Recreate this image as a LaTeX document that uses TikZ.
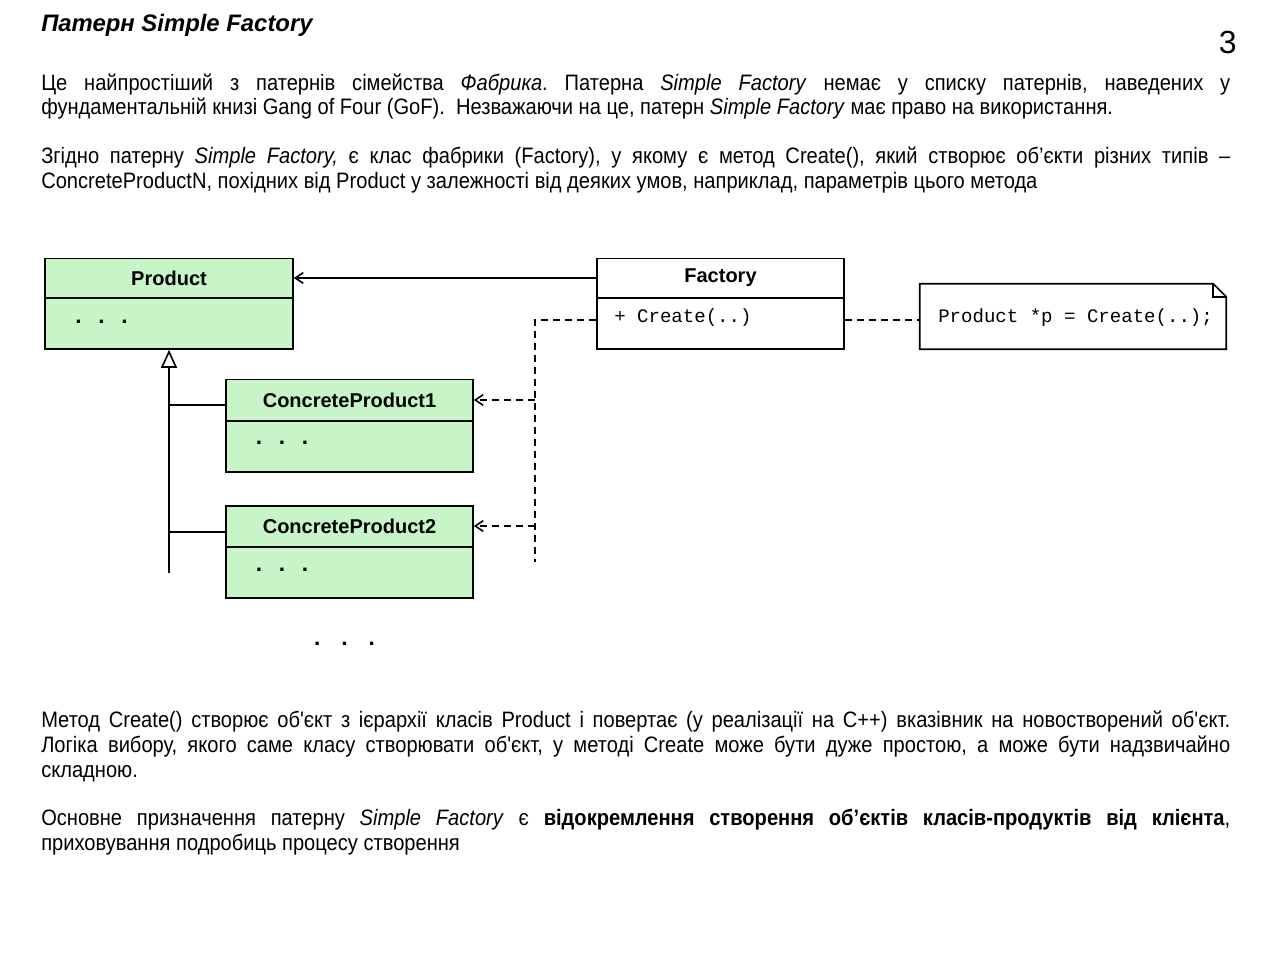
\documentclass[tikz,border=0pt]{standalone}
\usepackage{fontspec}
\setmainfont{Liberation Sans}
\newfontfamily\narrow[FakeStretch=0.9]{Liberation Sans}
\newfontfamily\codefont{Liberation Mono}
\usetikzlibrary{arrows.meta,calc}
\newlength\lw \setlength\lw{891.75pt}
\def\px{0.75pt}
\definecolor{pgreen}{RGB}{200,245,200}
\newcommand\dotrow[1]{.\hskip #1.\hskip #1.}
\frenchspacing
\tikzset{
  txt/.style={inner sep=0pt, anchor=base west, font=\narrow\fontsize{16.75pt}{20pt}\selectfont},
  hdr/.style={draw, line width=1.2pt, inner sep=0pt, font=\bfseries\fontsize{15pt}{18pt}\selectfont},
  bdy/.style={draw, line width=1.2pt, inner sep=0pt},
  ln/.style={line width=1.2pt},
  dep/.style={line width=1.2pt, dash pattern=on 5.25pt off 3.75pt},
  barb/.style={-{Straight Barb[length=6pt,width=8pt]}},
  gen/.style={-{Triangle[open,length=13.5pt,width=12pt]}},
  code/.style={inner sep=0pt, font=\codefont\fontsize{14.3pt}{16pt}\selectfont},
  dots/.style={inner sep=0pt, font=\bfseries\fontsize{17pt}{18pt}\selectfont},
}
\begin{document}
\begin{tikzpicture}[x=0.75pt,y=-0.75pt]
\useasboundingbox (0,0) rectangle (1280,955);
% title and page number
\node[inner sep=0pt, anchor=base west, font=\bfseries\itshape\fontsize{17.9pt}{20pt}\selectfont] (title) at (41,32) {Патерн Simple Factory};
\node[inner sep=0pt, anchor=base east, font=\fontsize{24pt}{28pt}\selectfont] (pnum) at (1237,54) {3};
% paragraph 1
\node[txt] (p1a) at (41,91) {\hbox to \lw{Це найпростіший з патернів сімейства \textit{Фабрика}. Патерна \textit{Simple Factory} немає у списку патернів, наведених у}};
\node[txt] (p1b) at (41,115) {фундаментальній книзі Gang of Four (GoF).\ \ Незважаючи на це, патерн \textit{Simple Factory} має право на використання.};
% paragraph 2
\node[txt] (p2a) at (41,164) {\hbox to \lw{Згідно патерну \textit{Simple Factory,} є клас фабрики (Factory), у якому є метод Create(), який створює об’єкти різних типів –}};
\node[txt] (p2b) at (41,189) {ConcreteProductN, похідних від Product у залежності від деяких умов, наприклад, параметрів цього метода};
% paragraph 3
\node[txt] (p3a) at (41,727) {\hbox to \lw{Метод Create() створює об'єкт з ієрархії класів Product і повертає (у реалізації на C++) вказівник на новостворений об'єкт.}};
\node[txt] (p3b) at (41,752) {\hbox to \lw{Логіка вибору, якого саме класу створювати об'єкт, у методі Create може бути дуже простою, а може бути надзвичайно}};
\node[txt] (p3c) at (41,777) {складною.};
% paragraph 4
\node[txt] (p4a) at (41,825) {\hbox to \lw{Основне призначення патерну \textit{Simple Factory} є \textbf{відокремлення створення об’єктів класів-продуктів від клієнта},}};
\node[txt] (p4b) at (41,850) {приховування подробиць процесу створення};

% classes
\node[hdr, fill=pgreen, minimum width=248*\px, minimum height=39*\px] (ph) at (169,278) {Product};
\node[bdy, fill=pgreen, minimum width=248*\px, minimum height=51*\px] (pb) at (169,323.5) {};
\node[dots] (pdots) at (101.5,322) {\dotrow{12.6pt}};

\node[hdr, fill=white, minimum width=247*\px, minimum height=39*\px] (fh) at (720.5,278) {Factory};
\node[bdy, fill=white, minimum width=247*\px, minimum height=51*\px] (fb) at (720.5,323.5) {};
\node[code, anchor=west] (fop) at (614,318) {+ Create(..)};

\node[hdr, fill=pgreen, minimum width=247*\px, minimum height=41*\px] (c1h) at (349.5,400) {ConcreteProduct1};
\node[bdy, fill=pgreen, minimum width=247*\px, minimum height=51*\px] (c1b) at (349.5,446.5) {};
\node[dots] (c1dots) at (282,443) {\dotrow{12.6pt}};

\node[hdr, fill=pgreen, minimum width=247*\px, minimum height=41*\px] (c2h) at (349.5,526.5) {ConcreteProduct2};
\node[bdy, fill=pgreen, minimum width=247*\px, minimum height=51*\px] (c2b) at (349.5,572.5) {};
\node[dots] (c2dots) at (282,570) {\dotrow{12.6pt}};

\node[dots] (mdots) at (344.5,644) {\dotrow{15.7pt}};

% note
\node[inner sep=0pt, minimum width=306*\px, minimum height=65*\px] (note) at (1073,316.5) {};
\draw[ln] (note.south west) -- (note.north west) -- ($(note.north east)+(-13,0)$) -- ($(note.north east)+(0,13)$) -- (note.south east) -- cycle;
\draw[ln] ($(note.north east)+(-13,0)$) -- ($(note.north east)+(-13,13)$) -- ($(note.north east)+(0,13)$);
\node[code, anchor=west] (ntext) at (938,318) {Product *p = Create(..);};

% connectors
\draw[ln, barb] (fh.west) -- (ph.east);
\draw[dep] ($(fb.east)+(0,-3.5)$) -- ($(note.west)+(0,3.5)$);
\coordinate (j0) at (535,320);
\coordinate (jend) at (535,562);
\draw[dep] ($(fb.west)+(0,-3.5)$) -- (j0) -- (jend);
\draw[dep, barb] (j0 |- c1h.east) -- (c1h.east);
\draw[dep, barb] ($(j0 |- c2h.east)+(0,-0.5)$) -- ($(c2h.east)+(0,-0.5)$);
\coordinate (iend) at (169,573);
\draw[ln, gen] (iend) -- (pb.south);
\draw[ln] ($(iend |- c1h.west)+(0,5)$) -- ($(c1h.west)+(0,5)$);
\draw[ln] ($(iend |- c2h.west)+(0,5.5)$) -- ($(c2h.west)+(0,5.5)$);
\end{tikzpicture}
\end{document}
